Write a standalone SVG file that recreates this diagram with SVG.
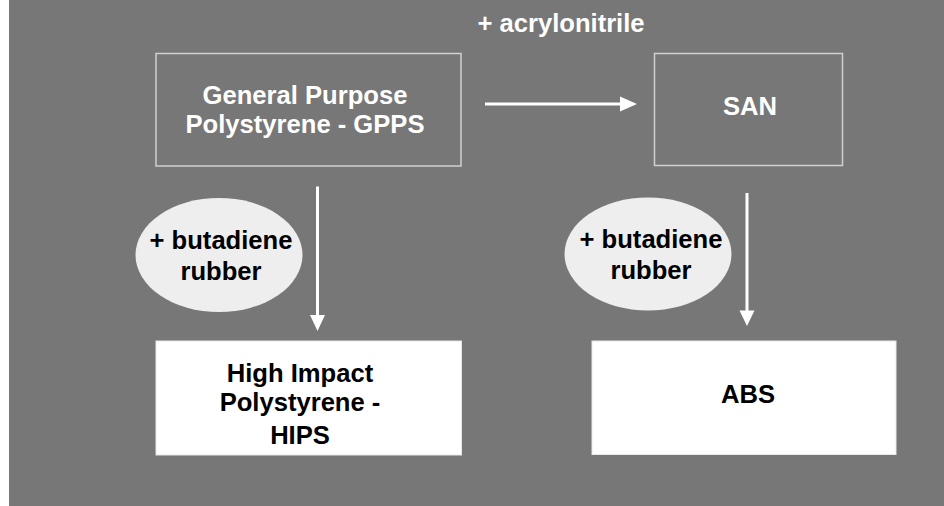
<svg xmlns="http://www.w3.org/2000/svg" width="944" height="506" viewBox="0 0 944 506">
  <defs>
    <style>
      .t { font-family: "Liberation Sans", Arial, sans-serif; font-weight: bold; font-size: 25.6px; text-anchor: middle; }
      .w { fill: #ffffff; }
      .k { fill: #000000; }
      .outline { fill: none; stroke: #d0d0d0; stroke-width: 1.5; }
      .solid { fill: #ffffff; stroke: #e8e8e8; stroke-width: 1; }
      .oval { fill: #eeeeee; stroke: none; }
      .conn { stroke: #ffffff; stroke-width: 3; fill: none; }
      .head { fill: #ffffff; }
    </style>
  </defs>
  <rect x="0" y="0" width="944" height="506" fill="#777777"/>
  <rect x="0" y="0" width="9" height="506" fill="#ffffff"/>

  <g id="gpps">
    <rect class="outline" x="156" y="53.5" width="305" height="112.5"/>
    <text class="t w" x="305" y="104">General Purpose</text>
    <text class="t w" x="305" y="133">Polystyrene - GPPS</text>
  </g>

  <g id="san">
    <rect class="outline" x="654.5" y="53.5" width="188" height="112"/>
    <text class="t w" x="750" y="115">SAN</text>
  </g>

  <g id="hips">
    <rect class="solid" x="156" y="341" width="305.5" height="114"/>
    <text class="t k" x="300" y="382">High Impact</text>
    <text class="t k" x="300" y="411">Polystyrene -</text>
    <text class="t k" x="300" y="444">HIPS</text>
  </g>

  <g id="abs">
    <rect class="solid" x="592" y="341" width="304" height="113.5"/>
    <text class="t k" x="748" y="403">ABS</text>
  </g>

  <g id="rubber-left">
    <ellipse class="oval" cx="219" cy="255" rx="83.5" ry="57"/>
    <text class="t k" x="221" y="249">+ butadiene</text>
    <text class="t k" x="221" y="280">rubber</text>
  </g>

  <g id="rubber-right">
    <ellipse class="oval" cx="648" cy="254" rx="83.5" ry="56.5"/>
    <text class="t k" x="651" y="248">+ butadiene</text>
    <text class="t k" x="651" y="279">rubber</text>
  </g>

  <g id="label-acrylonitrile">
    <text class="t w" x="561" y="32">+ acrylonitrile</text>
  </g>

  <g id="connectors">
    <line class="conn" x1="485" y1="104" x2="622" y2="104"/>
    <polygon class="head" points="620,96.5 637,104 620,111.5"/>
    <line class="conn" x1="317.5" y1="186.5" x2="317.5" y2="316"/>
    <polygon class="head" points="310,315 325,315 317.5,331"/>
    <line class="conn" x1="747" y1="193" x2="747" y2="312"/>
    <polygon class="head" points="739.5,310.5 754.5,310.5 747,326"/>
  </g>
</svg>
